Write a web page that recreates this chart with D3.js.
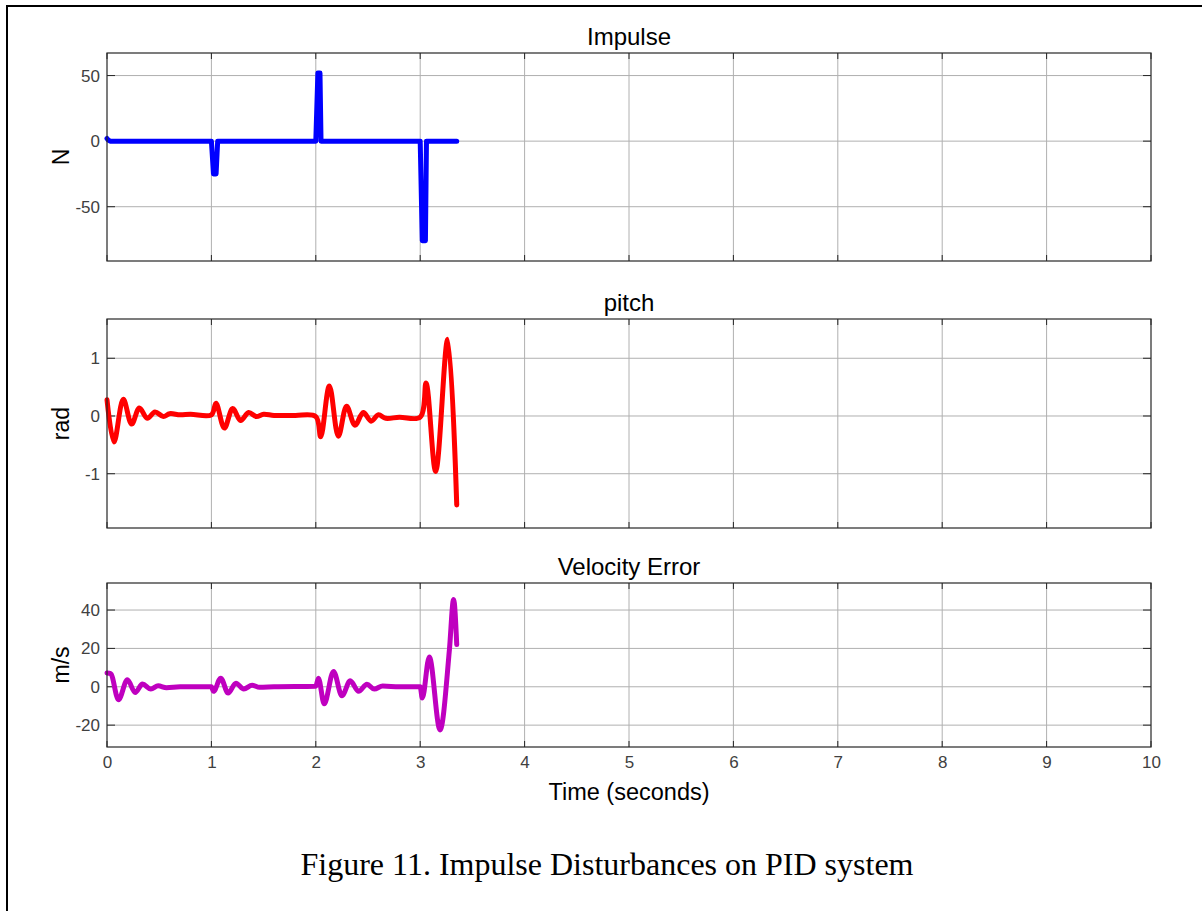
<!DOCTYPE html>
<html>
<head>
    <script src="https://d3js.org/d3.v7.min.js" charset="utf-8"></script>
    <style>
        body { margin: 0; background: #fff; }
        svg { font-family: "Liberation Sans", Arial, sans-serif; }
        .axis path.domain { stroke: none; }
    </style>
</head>
<body>
<script>
    // time axis ticks
    var timeTicks = [0, 1, 2, 3, 4, 5, 6, 7, 8, 9, 10];

    // Impulse (N)
    var impulseT = [0, 0.01, 0.03, 1.0, 1.02, 1.045, 1.06, 2.0, 2.02, 2.04, 2.05, 3.0, 3.02, 3.05, 3.06, 3.35];
    var impulseV = [2, 1, 0, 0, -25, -25, 0, 0, 52, 52, 0, 0, -76, -76, 0, 0];

    // pitch (rad)
    var pitchT = [0, 0.067, 0.156, 0.236, 0.31, 0.386, 0.46, 0.54, 0.6, 0.7, 0.8, 1.0,
                  1.044, 1.124, 1.204, 1.28, 1.357, 1.43, 1.5, 1.6, 1.8, 2.0,
                  2.047, 2.13, 2.216, 2.295, 2.375, 2.455, 2.53, 2.6, 2.67, 2.8, 3.0,
                  3.056, 3.148, 3.263, 3.35];
    var pitchV = [0.28, -0.45, 0.29, -0.14, 0.14, -0.04, 0.07, -0.01, 0.04, 0.02, 0.03, 0.02,
                  0.22, -0.21, 0.13, -0.08, 0.06, -0.01, 0.03, 0.01, 0.01, -0.01,
                  -0.36, 0.52, -0.35, 0.17, -0.16, 0.06, -0.09, 0.02, -0.04, -0.02, -0.02,
                  0.57, -0.96, 1.33, -1.54];

    // Velocity Error (m/s)
    var velT = [0, 0.035, 0.11, 0.195, 0.27, 0.34, 0.42, 0.49, 0.57, 0.7, 1.0,
                1.02, 1.09, 1.16, 1.235, 1.31, 1.39, 1.46, 1.6, 2.0,
                2.025, 2.08, 2.17, 2.25, 2.33, 2.41, 2.49, 2.56, 2.64, 2.8, 3.0,
                3.02, 3.087, 3.19, 3.28, 3.32, 3.35];
    var velV = [7.2, 6.9, -6.8, 3.7, -3.0, 1.4, -1.2, 0.5, -0.5, 0, 0,
                -2.4, 4.5, -3.3, 1.9, -1.2, 0.8, -0.3, 0, 0.3,
                4.5, -8.9, 8.0, -4.7, 3.1, -2.4, 1.3, -1.2, 0.4, 0, 0,
                -5.9, 15.5, -22.5, 19.4, 45.5, 22];

    var panels = [
        { title: "Impulse", ylabel: "N", t: impulseT, v: impulseV, color: "#0000ff",
          top: 53, bottom: 261, domain: [-91.4, 67.2], ticks: [-50, 0, 50], curve: d3.curveLinear },
        { title: "pitch", ylabel: "rad", t: pitchT, v: pitchV, color: "#ff0000",
          top: 319, bottom: 528, domain: [-1.94, 1.68], ticks: [-1, 0, 1], curve: d3.curveCatmullRom.alpha(0.5) },
        { title: "Velocity Error", ylabel: "m/s", t: velT, v: velV, color: "#bf00bf",
          top: 583, bottom: 747, domain: [-31.4, 54.1], ticks: [-20, 0, 20, 40], curve: d3.curveMonotoneX }
    ];

    var W = 1202, H = 911;
    var left = 107, right = 1151;

    var svg = d3.select("body").append("svg")
        .attr("width", W)
        .attr("height", H);

    // outer frame (runs off the right and bottom edges)
    svg.append("rect")
        .attr("x", 7).attr("y", 6)
        .attr("width", W + 10).attr("height", H + 10)
        .style("fill", "none").style("stroke", "#000").style("stroke-width", 2);

    var x = d3.scaleLinear().domain([0, 10]).range([left, right]);

    panels.forEach(function (p, i) {
        var y = d3.scaleLinear().domain(p.domain).range([p.bottom, p.top]);
        var g = svg.append("g");

        // grid
        g.selectAll(".vg").data(timeTicks.slice(1, -1)).enter().append("line")
            .attr("x1", d => x(d)).attr("x2", d => x(d))
            .attr("y1", p.top).attr("y2", p.bottom)
            .style("stroke", "#b0b0b0").style("stroke-width", 1);
        g.selectAll(".hg").data(p.ticks).enter().append("line")
            .attr("x1", left).attr("x2", right)
            .attr("y1", d => y(d)).attr("y2", d => y(d))
            .style("stroke", "#b0b0b0").style("stroke-width", 1);

        // inward tick marks
        timeTicks.forEach(function (d) {
            g.append("line").attr("x1", x(d)).attr("x2", x(d))
                .attr("y1", p.bottom).attr("y2", p.bottom - 6)
                .style("stroke", "#262626");
            g.append("line").attr("x1", x(d)).attr("x2", x(d))
                .attr("y1", p.top).attr("y2", p.top + 6)
                .style("stroke", "#262626");
        });
        p.ticks.forEach(function (d) {
            g.append("line").attr("x1", left).attr("x2", left + 8)
                .attr("y1", y(d)).attr("y2", y(d)).style("stroke", "#262626");
            g.append("line").attr("x1", right).attr("x2", right - 8)
                .attr("y1", y(d)).attr("y2", y(d)).style("stroke", "#262626");
        });

        // y axis labels
        var yAxis = d3.axisLeft(y).tickValues(p.ticks).tickSize(0).tickPadding(7)
            .tickFormat(d => d < 0 ? "-" + Math.abs(d) : String(d));
        g.append("g").attr("class", "axis")
            .attr("transform", "translate(" + left + ",0)")
            .call(yAxis)
            .selectAll("text")
            .style("font-size", "17px").style("fill", "#404040")
            .style("font-family", "'Liberation Sans', Arial, sans-serif");

        // line
        var line = d3.line()
            .x((d, j) => x(p.t[j]))
            .y(d => y(d))
            .curve(p.curve);
        g.append("path")
            .datum(p.v)
            .attr("d", line)
            .style("fill", "none")
            .style("stroke", p.color)
            .style("stroke-width", 5)
            .style("stroke-linejoin", "round")
            .style("stroke-linecap", "round");

        // box
        g.append("rect")
            .attr("x", left).attr("y", p.top)
            .attr("width", right - left).attr("height", p.bottom - p.top)
            .style("fill", "none").style("stroke", "#262626").style("stroke-width", 1.2);

        // title
        g.append("text")
            .attr("x", (left + right) / 2).attr("y", p.top - 8)
            .attr("text-anchor", "middle")
            .style("font-size", "24px").style("fill", "#000")
            .text(p.title);

        // y label
        g.append("text")
            .attr("transform", "translate(69," + ((p.top + p.bottom) / 2) + ") rotate(-90)")
            .attr("text-anchor", "middle")
            .style("font-size", "23px").style("fill", "#000")
            .text(p.ylabel);

        // x axis labels only under the last panel
        if (i === panels.length - 1) {
            var xAxis = d3.axisBottom(x).tickValues(timeTicks).tickSize(0).tickPadding(9)
                .tickFormat(d3.format("d"));
            g.append("g").attr("class", "axis")
                .attr("transform", "translate(0," + p.bottom + ")")
                .call(xAxis)
                .selectAll("text")
                .style("font-size", "17px").style("fill", "#404040")
                .style("font-family", "'Liberation Sans', Arial, sans-serif");
            g.append("text")
                .attr("x", (left + right) / 2).attr("y", p.bottom + 53)
                .attr("text-anchor", "middle")
                .style("font-size", "23.5px").style("fill", "#000")
                .text("Time (seconds)");
        }
    });

    // figure caption
    svg.append("text")
        .attr("x", 607).attr("y", 875)
        .attr("text-anchor", "middle")
        .style("font-family", "'Liberation Serif', 'Times New Roman', serif")
        .style("font-size", "32px").style("fill", "#000")
        .text("Figure 11. Impulse Disturbances on PID system");
</script>
</body>
</html>
